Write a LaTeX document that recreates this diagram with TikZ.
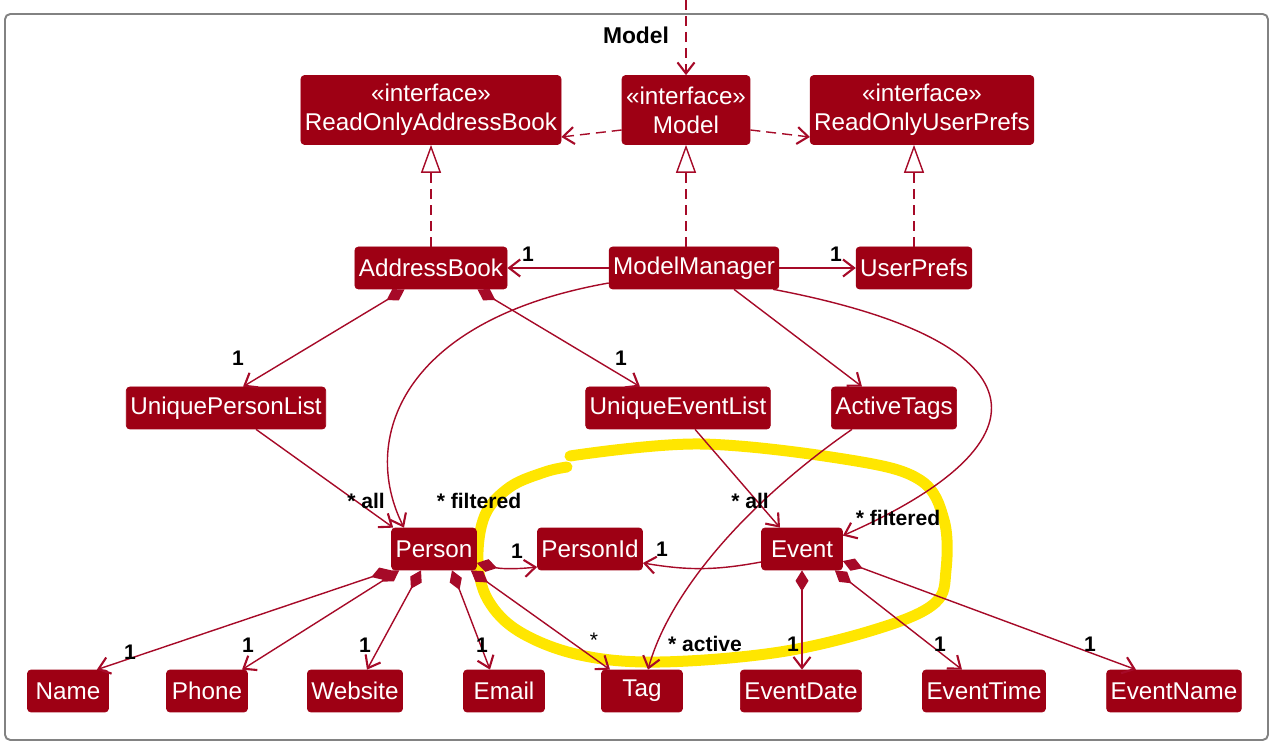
\documentclass[tikz,border=0pt]{standalone}
\usepackage{fontspec}
\usetikzlibrary{arrows.meta,calc}

\newfontfamily\umlfont{Liberation Sans}

\definecolor{umlfill}{RGB}{158,0,20}
\definecolor{umlline}{RGB}{166,10,40}
\definecolor{hilite}{RGB}{255,230,0}
\definecolor{framegray}{RGB}{130,130,130}

\tikzset{
    cls/.style={draw=umlfill, fill=umlfill, text=white, rounded corners=2pt,
        font=\umlfont\fontsize{13.8}{16.5}\selectfont,
        inner xsep=0.08cm, inner ysep=0pt, minimum height=0.84cm,
        minimum width=1.62cm},
    iface/.style={cls, align=center, minimum height=1.38cm},
    link/.style={umlline, line width=0.8pt},
    assoc/.style={link, -{Straight Barb[length=0.22cm,width=0.34cm,line width=1.2pt]}},
    dep/.style={assoc, dash pattern=on 0.2cm off 0.12cm},
    realize/.style={link, dash pattern=on 0.2cm off 0.12cm,
        -{Triangle[open,length=0.56cm,width=0.4cm,fill=white]}},
    comp/.style={link, {Diamond[length=0.42cm,width=0.26cm]}-{Straight Barb[length=0.22cm,width=0.34cm,line width=1.2pt]}},
    mult/.style={font=\umlfont\bfseries\fontsize{12}{14}\selectfont, inner sep=0pt},
}

\begin{document}
\begin{tikzpicture}[x=0.02cm, y=-0.02cm]

    \useasboundingbox (0,0) rectangle (1276,749);

    % highlight drawn by hand over the event part
    \draw[hilite, line width=0.22cm, line cap=round]
        plot[smooth, tension=0.6] coordinates {(570,456) (700,444) (850,460) (920,480)
        (944,520) (946,570) (935,603) (880,628) (780,652) (660,662) (580,655)
        (520,632) (488,600) (478,560) (485,515) (510,487) (545,472) (567,467)};

    % package frame
    \draw[framegray, line width=1.1pt, rounded corners=3pt]
        (5,14) rectangle (1268,740);
    \node[font=\umlfont\bfseries\fontsize{13}{15}\selectfont, inner sep=0pt] (pkg) at (636,35) {Model};

    % interfaces
    \node[iface] (rab) at (431,110) {«interface»\\ReadOnlyAddressBook};
    \node[iface] (imodel) at (686,110) {«interface»\\Model};
    \node[iface] (roup) at (922,110) {«interface»\\ReadOnlyUserPrefs};

    % classes
    \node[cls] (ab) at (431,268) {AddressBook};
    \node[cls] (mm) at (694,268) {ModelManager};
    \node[cls] (up) at (914,268) {UserPrefs};

    \node[cls] (upl) at (226,408) {UniquePersonList};
    \node[cls] (uel) at (678,408) {UniqueEventList};
    \node[cls] (at) at (894,408) {ActiveTags};

    \node[cls] (person) at (434,549) {Person};
    \node[cls] (pid) at (590,549) {PersonId};
    \node[cls] (event) at (802,549) {Event};

    \node[cls] (name) at (68,691) {Name};
    \node[cls] (phone) at (207,691) {Phone};
    \node[cls] (web) at (355,691) {Website};
    \node[cls] (email) at (504,691) {Email};
    \node[cls] (tag) at (642,691) {Tag};
    \node[cls] (edate) at (801,691) {EventDate};
    \node[cls] (etime) at (984,691) {EventTime};
    \node[cls] (ename) at (1174,691) {EventName};

    % dependencies
    \coordinate (entry) at (686,0);
    \draw[dep] (entry) -- (imodel);
    \draw[dep] ($(imodel.west)+(0,20)$) -- ($(rab.east)+(0,27)$);
    \draw[dep] ($(imodel.east)+(0,20)$) -- ($(roup.west)+(0,27)$);

    % realizations
    \draw[realize] (ab) -- (rab);
    \draw[realize] (imodel.south |- mm.north) -- (imodel.south);
    \draw[realize] (up.north) -- (roup.south -| up.north);

    % associations
    \draw[assoc] (mm) -- (ab);
    \draw[assoc] (mm) -- (up);
    \draw[assoc] ($(mm.south)+(40,0)$) -- ($(at.north)+(-32,0)$);
    \draw[assoc] ($(mm.west)+(0,15)$)
        .. controls (400,320) and (360,440) .. ($(person.north)+(-30,0)$);
    \draw[assoc] ($(mm.south east)+(-6,0)$)
        .. controls (1040,340) and (1060,440) .. ($(event.north east)+(0,8)$);
    \draw[assoc] ($(upl.south)+(30,0)$) -- ($(person.north west)+(2,0)$);
    \draw[assoc] ($(uel.south)+(17,0)$) -- ($(event.north)+(-22,0)$);
    \draw[assoc] ($(at.south)+(-42,0)$)
        .. controls (750,500) and (670,590) .. ($(tag.north)+(6,0)$);
    \draw[assoc] ($(event.west)+(0,13)$) to[bend left=10] ($(pid.east)+(0,14)$);

    % compositions
    \draw[comp] ($(ab.south west)+(50,0)$) -- ($(upl.north)+(17,0)$);
    \draw[comp] ($(ab.south east)+(-30,0)$) -- ($(uel.north)+(-38,0)$);
    \draw[comp] ($(person.east)+(0,14)$) to[bend right=10] ($(pid.west)+(0,18)$);
    \draw[comp] (person.south west) -- ($(name.north east)+(-12,0)$);
    \draw[comp] ($(person.south west)+(8,0)$) -- ($(phone.north)+(35,0)$);
    \draw[comp] ($(person.south)+(-13,0)$) -- ($(web.north)+(12,0)$);
    \draw[comp] ($(person.south)+(18,0)$) -- ($(email.north)+(-14,0)$);
    \draw[comp] ($(person.south east)+(-6,0)$) -- ($(tag.north)+(-32,0)$);
    \draw[comp] (event.south) -- (event.south |- edate.north);
    \draw[comp] ($(event.south east)+(-8,0)$) -- ($(etime.north)+(-22,0)$);
    \draw[comp] ($(event.east)+(0,12)$) -- ($(ename.north)+(-38,0)$);

    % multiplicities
    \node[mult] (mab) at (528,254) {1};
    \node[mult] (mup) at (836,254) {1};
    \node[mult] (mupl) at (238,358) {1};
    \node[mult] (muel) at (621,358) {1};
    \node[mult] (mpall) at (366,501) {* all};
    \node[mult] (mpfil) at (479,501) {* filtered};
    \node[mult] (meall) at (750,501) {* all};
    \node[mult] (mefil) at (898,518) {* filtered};
    \node[mult] (mpid) at (517,551) {1};
    \node[mult] (mepid) at (662,549) {1};
    \node[mult] (mname) at (130,652) {1};
    \node[mult] (mphone) at (248,645) {1};
    \node[mult] (mweb) at (365,645) {1};
    \node[mult] (memail) at (482,645) {1};
    \node[mult, font=\umlfont\fontsize{12}{14}\selectfont] (mtag) at (594,640) {*};
    \node[mult] (mact) at (705,644) {* active};
    \node[mult] (medate) at (793,644) {1};
    \node[mult] (metime) at (940,644) {1};
    \node[mult] (mename) at (1090,644) {1};

\end{tikzpicture}
\end{document}
